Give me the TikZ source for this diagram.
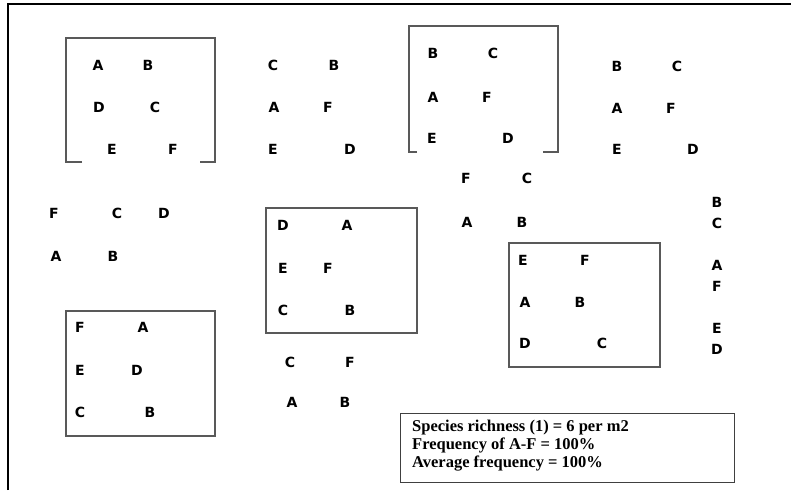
\documentclass[tikz,border=0pt]{standalone}
\usepackage{fontspec}
\newfontfamily\letterfont{DejaVu Sans}
\newfontfamily\notefont{Liberation Serif}
\tikzset{
  species/.style={font=\letterfont\bfseries\fontsize{14}{14}\selectfont, inner sep=0pt},
  quadrat/.style={draw=black!65, line width=1.1pt},
  frame/.style={draw=black, line width=2pt},
}
\begin{document}
\begin{tikzpicture}[x=1pt, y=-1pt]
  \useasboundingbox (0,0) rectangle (791,490);
  % outer frame, top and left only
  \draw[frame] (8,490) -- (8,4) -- (791,4);

  % quadrat 1 (open at the bottom)
  \draw[quadrat] (82,162) -- (66,162) -- (66,38) -- (215,38) -- (215,162) -- (200,162);
  \node[species] (q1a) at (98,65) {A};
  \node[species] (q1b) at (148,65) {B};
  \node[species] (q1d) at (99,107) {D};
  \node[species] (q1c) at (155,107) {C};
  \node[species] (q1e) at (112,149) {E};
  \node[species] (q1f) at (173,149) {F};

  % free group 1
  \node[species] (g1c) at (273,65) {C};
  \node[species] (g1b) at (334,65) {B};
  \node[species] (g1a) at (274,107) {A};
  \node[species] (g1f) at (328,107) {F};
  \node[species] (g1e) at (273,149) {E};
  \node[species] (g1d) at (350,149) {D};

  % quadrat 2 (open at the bottom)
  \draw[quadrat] (417,152) -- (409,152) -- (409,26) -- (558,26) -- (558,152) -- (543,152);
  \node[species] (q2b) at (433,53) {B};
  \node[species] (q2c) at (493,53) {C};
  \node[species] (q2a) at (433,97) {A};
  \node[species] (q2f) at (487,97) {F};
  \node[species] (q2e) at (432,138) {E};
  \node[species] (q2d) at (508,138) {D};

  % free group 2
  \node[species] (g2b) at (617,66) {B};
  \node[species] (g2c) at (677,66) {C};
  \node[species] (g2a) at (617,108) {A};
  \node[species] (g2f) at (671,108) {F};
  \node[species] (g2e) at (617,149) {E};
  \node[species] (g2d) at (693,149) {D};

  % free group 3
  \node[species] (g3f) at (54,213) {F};
  \node[species] (g3c) at (117,213) {C};
  \node[species] (g3d) at (164,213) {D};
  \node[species] (g3a) at (56,256) {A};
  \node[species] (g3b) at (113,256) {B};

  % free group 4
  \node[species] (g4f) at (466,178) {F};
  \node[species] (g4c) at (527,178) {C};
  \node[species] (g4a) at (467,222) {A};
  \node[species] (g4b) at (522,222) {B};

  % quadrat 3
  \draw[quadrat] (266,208) rectangle (417,333);
  \node[species] (q3d) at (283,225) {D};
  \node[species] (q3a) at (347,225) {A};
  \node[species] (q3e) at (283,268) {E};
  \node[species] (q3f) at (328,268) {F};
  \node[species] (q3c) at (283,310) {C};
  \node[species] (q3b) at (350,310) {B};

  % free group 5
  \node[species] (g5c) at (290,362) {C};
  \node[species] (g5f) at (350,362) {F};
  \node[species] (g5a) at (292,402) {A};
  \node[species] (g5b) at (345,402) {B};

  % quadrat 4
  \draw[quadrat] (66,311) rectangle (215,436);
  \node[species] (q4f) at (80,327) {F};
  \node[species] (q4a) at (143,327) {A};
  \node[species] (q4e) at (80,370) {E};
  \node[species] (q4d) at (137,370) {D};
  \node[species] (q4c) at (80,412) {C};
  \node[species] (q4b) at (150,412) {B};

  % quadrat 5
  \draw[quadrat] (509,243) rectangle (660,367);
  \node[species] (q5e) at (523,260) {E};
  \node[species] (q5f) at (585,260) {F};
  \node[species] (q5a) at (525,302) {A};
  \node[species] (q5b) at (580,302) {B};
  \node[species] (q5d) at (525,343) {D};
  \node[species] (q5c) at (602,343) {C};

  % free column at the right
  \node[species] (c6b) at (717,202) {B};
  \node[species] (c6c) at (717,223) {C};
  \node[species] (c6a) at (717,265) {A};
  \node[species] (c6f) at (717,286) {F};
  \node[species] (c6e) at (717,328) {E};
  \node[species] (c6d) at (717,349) {D};

  % summary box
  \node[draw=black!75, line width=1pt, minimum width=334pt, minimum height=69pt,
        anchor=north west, inner sep=0pt] (note) at (400,413) {};
  \node[anchor=west, align=left, inner sep=0pt,
        font=\notefont\bfseries\fontsize{16.5}{18}\selectfont] (notetxt) at (412,446)
    {Species richness (1) = 6 per m2\\Frequency of A-F = 100\%\\Average frequency = 100\%};
\end{tikzpicture}
\end{document}
